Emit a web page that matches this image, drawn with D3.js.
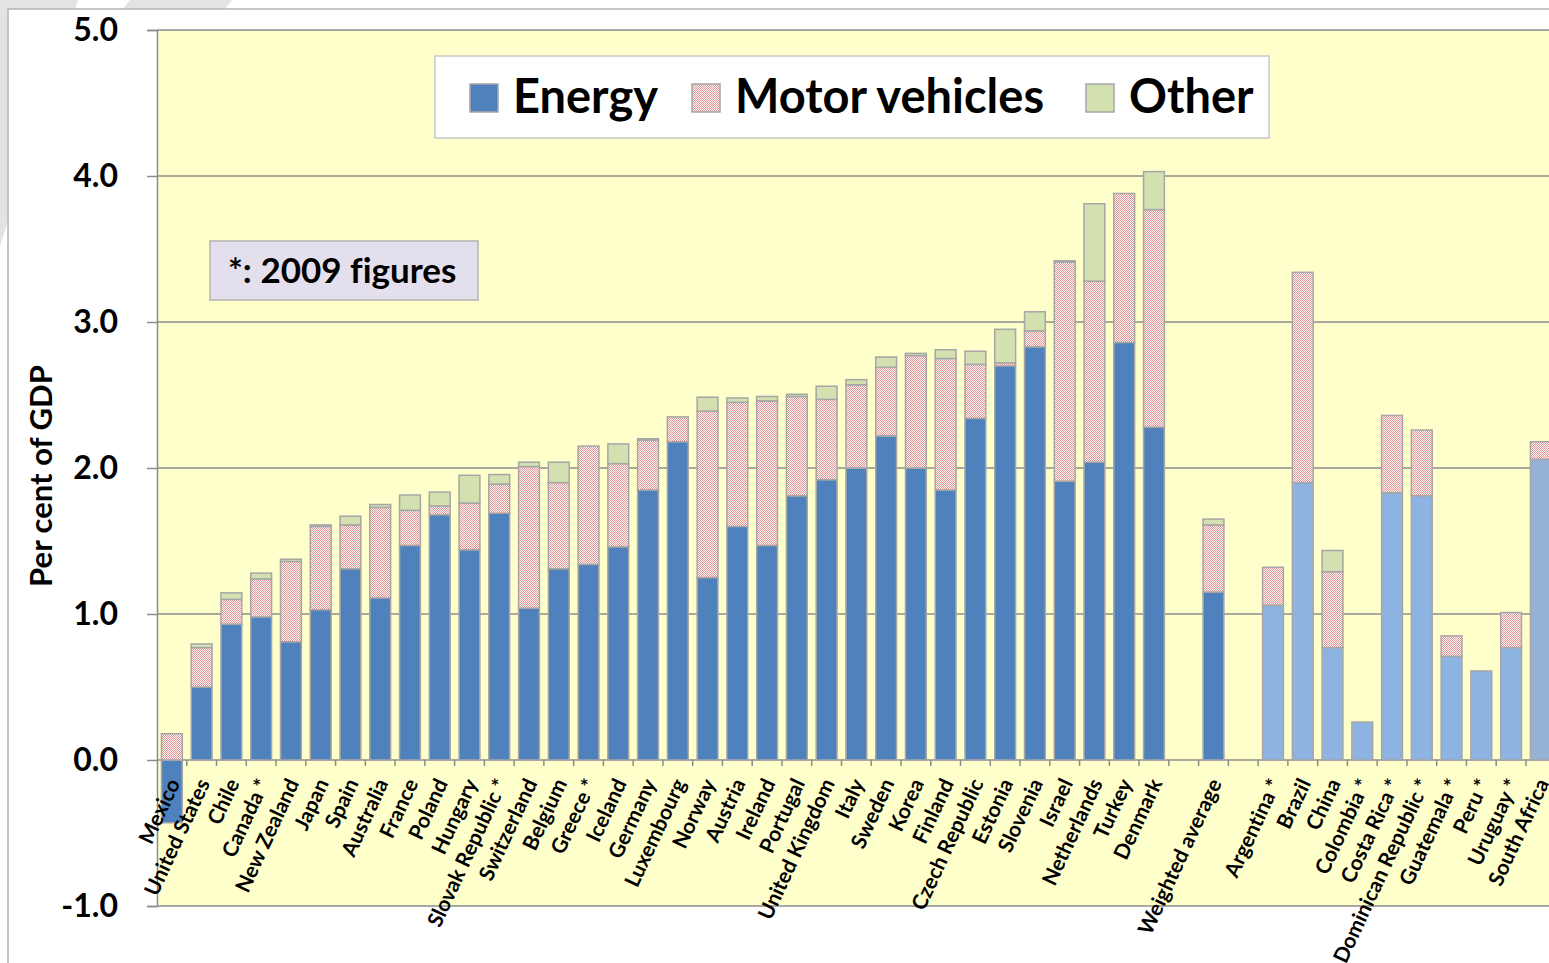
<!DOCTYPE html>
<html>
<head>
<meta charset="utf-8">
<script src="https://cdn.jsdelivr.net/npm/d3@7"></script>
<style>
  body { margin: 0; background: #fff; }
  svg { display: block; font-family: Lato, "Open Sans", sans-serif; font-variant-ligatures: none; }
</style>
</head>
<body>
<svg id="chart" width="1549" height="963"></svg>
<script>
// data (per cent of GDP), null = empty slot between groups
const categories = [
  "Mexico", "United States", "Chile", "Canada *", "New Zealand", "Japan", "Spain",
  "Australia", "France", "Poland", "Hungary", "Slovak Republic *", "Switzerland",
  "Belgium", "Greece *", "Iceland", "Germany", "Luxembourg", "Norway", "Austria",
  "Ireland", "Portugal", "United Kingdom", "Italy", "Sweden", "Korea", "Finland",
  "Czech Republic", "Estonia", "Slovenia", "Israel", "Netherlands", "Turkey", "Denmark",
  null, "Weighted average", null,
  "Argentina *", "Brazil", "China", "Colombia *", "Costa Rica *", "Dominican Republic *",
  "Guatemala *", "Peru *", "Uruguay *", "South Africa"
];
const energy = [
  -0.43, 0.50, 0.93, 0.98, 0.81, 1.03, 1.31, 1.11, 1.47, 1.68, 1.44, 1.69, 1.04,
  1.31, 1.34, 1.46, 1.85, 2.18, 1.25, 1.60, 1.47, 1.81, 1.92, 2.00, 2.22, 2.00,
  1.85, 2.34, 2.70, 2.83, 1.91, 2.04, 2.86, 2.28,
  0, 1.15, 0,
  1.06, 1.90, 0.77, 0.26, 1.83, 1.81, 0.71, 0.61, 0.77, 2.06
];
const motorVehicles = [
  0.18, 0.27, 0.17, 0.26, 0.55, 0.57, 0.30, 0.62, 0.24, 0.06, 0.32, 0.20, 0.97,
  0.59, 0.81, 0.57, 0.34, 0.17, 1.14, 0.85, 0.99, 0.68, 0.55, 0.57, 0.47, 0.77,
  0.90, 0.37, 0.02, 0.11, 1.50, 1.24, 1.02, 1.49,
  0, 0.46, 0,
  0.26, 1.44, 0.52, 0, 0.53, 0.45, 0.14, 0, 0.24, 0.12
];
const other = [
  0, 0.025, 0.045, 0.04, 0.015, 0.01, 0.06, 0.02, 0.105, 0.095, 0.19, 0.065, 0.03,
  0.14, 0, 0.135, 0.01, 0, 0.095, 0.03, 0.03, 0.015, 0.09, 0.035, 0.07, 0.015,
  0.06, 0.09, 0.23, 0.13, 0.01, 0.53, 0, 0.26,
  0, 0.04, 0,
  0, 0, 0.145, 0, 0, 0, 0, 0, 0, 0
];
const seriesNames = ["Energy", "Motor vehicles", "Other"];
const yTicks = [-1, 0, 1, 2, 3, 4, 5];
const partnerCountries = ["Argentina *", "Brazil", "China", "Colombia *", "Costa Rica *",
  "Dominican Republic *", "Guatemala *", "Peru *", "Uruguay *"];
const otherEconomies = ["South Africa"];
const noteText = "*: 2009 figures";
const yTitle = "Per cent of GDP";

const svg = d3.select("#chart");
const W = 1549, H = 963;
const plot = { left: 157, top: 30, bottom: 906, step: 29.76 };

// slide decoration + frame
svg.append("polygon").attr("points", "0,0 78,0 0,246").attr("fill", "#e3e3e3");
svg.append("polygon").attr("points", "130,0 232,0 200,40 98,40").attr("fill", "#e3e3e3");
svg.append("rect").attr("x", 8).attr("y", 9).attr("width", W).attr("height", H)
  .attr("fill", "#fff").attr("stroke", "#b4b4b4").attr("stroke-width", 1.5);

const defs = svg.append("defs");
const pat = defs.append("pattern").attr("id", "motor").attr("patternUnits", "userSpaceOnUse")
  .attr("width", 2).attr("height", 2);
pat.append("rect").attr("width", 2).attr("height", 2).attr("fill", "#fff6f6");
pat.append("rect").attr("width", 1).attr("height", 1).attr("fill", "#e29597");
pat.append("rect").attr("x", 1).attr("y", 1).attr("width", 1).attr("height", 1).attr("fill", "#e29597");

// rows for stacking
const rows = categories.map((c, i) => ({
  key: "slot" + i, name: c,
  "Energy": energy[i], "Motor vehicles": motorVehicles[i], "Other": other[i]
}));

const x = d3.scaleBand()
  .domain(rows.map(d => d.key))
  .range([plot.left, plot.left + rows.length * plot.step])
  .paddingInner(0.3).paddingOuter(0.15);

const y = d3.scaleLinear().domain([-1, 5]).range([plot.bottom, plot.top]);

// plot area
svg.append("rect").attr("x", plot.left).attr("y", plot.top)
  .attr("width", W - plot.left).attr("height", plot.bottom - plot.top)
  .attr("fill", "#ffffcc");

// gridlines
svg.append("g").selectAll("line").data(yTicks).join("line")
  .attr("x1", plot.left).attr("x2", W)
  .attr("y1", d => y(d)).attr("y2", d => y(d))
  .attr("stroke", "#8c8c8c").attr("stroke-width", 1.5);

// y axis (hyphen minus like the original, not the unicode minus)
const yAxis = svg.append("g").attr("transform", `translate(${plot.left},0)`)
  .call(d3.axisLeft(y).tickValues(yTicks).tickFormat(d => d.toFixed(1)).tickSize(10).tickPadding(29));
yAxis.attr("font-family", null).attr("font-size", null);
yAxis.select(".domain").attr("stroke", "#8c8c8c").attr("stroke-width", 1.5);
yAxis.selectAll(".tick line").attr("stroke", "#8c8c8c").attr("stroke-width", 1.5);
yAxis.selectAll(".tick text").attr("fill", "#000").style("font-size", "32px")
  .style("font-weight", "bold");

svg.append("text")
  .attr("transform", `translate(52,${(y(5) + y(-1)) / 2 + 8}) rotate(-90)`)
  .attr("text-anchor", "middle").style("font-size", "31px").style("font-weight", "bold")
  .text(yTitle);

// category ticks on the zero line
const bounds = d3.range(rows.length + 1).map(i => plot.left + i * x.step());
svg.append("g").selectAll("line").data(bounds.slice(1)).join("line")
  .attr("x1", d => d).attr("x2", d => d)
  .attr("y1", y(0)).attr("y2", y(0) + 6)
  .attr("stroke", "#8c8c8c").attr("stroke-width", 1.5);

// bars
const stack = d3.stack().keys(seriesNames).offset(d3.stackOffsetDiverging);
const layers = stack(rows);

function barColor(series, d) {
  if (series === "Motor vehicles") return "url(#motor)";
  if (series === "Other") return "#d3e1b0";
  if (partnerCountries.includes(d.data.name)) return "#8db3e2";
  if (otherEconomies.includes(d.data.name)) return "#95b1d6";
  return "#4f81bd";
}

svg.append("g").selectAll("g").data(layers).join("g")
  .each(function (layer) {
    d3.select(this).selectAll("rect")
      .data(layer.filter(d => d.data.name !== null && d[1] - d[0] !== 0))
      .join("rect")
      .attr("x", d => x(d.data.key))
      .attr("width", x.bandwidth())
      .attr("y", d => y(Math.max(d[0], d[1])))
      .attr("height", d => Math.abs(y(d[0]) - y(d[1])))
      .attr("fill", d => barColor(layer.key, d))
      .attr("stroke", "#a6a6a6").attr("stroke-width", 1.5);
  });

// category labels
svg.append("g").selectAll("text")
  .data(rows.filter(d => d.name !== null)).join("text")
  .attr("transform", d => `translate(${x(d.key) + x.bandwidth() / 2 + 2},${y(0) + 20}) rotate(-65)`)
  .attr("text-anchor", "end").attr("dy", "0.35em")
  .style("font-size", "21px").style("font-weight", "bold")
  .text(d => d.name);

// legend
const legend = svg.append("g");
legend.append("rect").attr("x", 435).attr("y", 56).attr("width", 834).attr("height", 82)
  .attr("fill", "#fff").attr("stroke", "#c8c8c8").attr("stroke-width", 1.5);
const legendX = [470, 692, 1086];
seriesNames.forEach((s, i) => {
  legend.append("rect").attr("x", legendX[i]).attr("y", 84).attr("width", 28).attr("height", 28)
    .attr("fill", s === "Energy" ? "#4f81bd" : s === "Motor vehicles" ? "url(#motor)" : "#d3e1b0")
    .attr("stroke", "#a6a6a6").attr("stroke-width", 1.5);
  legend.append("text").attr("x", legendX[i] + 43).attr("y", 113)
    .style("font-size", "47px").style("font-weight", "bold").text(s);
});

// note box
svg.append("rect").attr("x", 210).attr("y", 241).attr("width", 268).attr("height", 59)
  .attr("fill", "#e4dfec").attr("stroke", "#b4b4b4").attr("stroke-width", 1.5);
svg.append("text").attr("x", 228).attr("y", 283)
  .style("font-size", "35px").style("font-weight", "bold").text(noteText);
</script>
</body>
</html>
